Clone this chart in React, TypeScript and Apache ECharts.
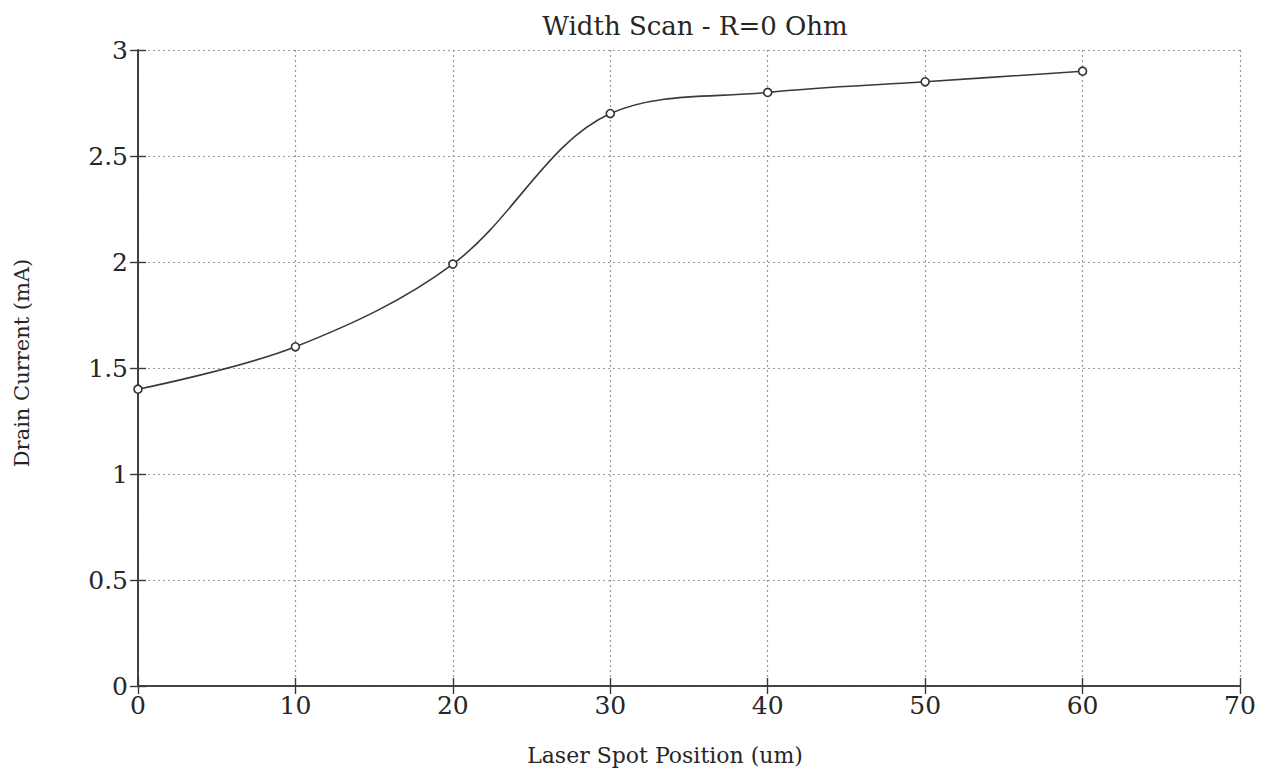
import React, { useEffect, useRef } from "react";
import * as echarts from "echarts";

const positions = [0, 10, 20, 30, 40, 50, 60];
const drainCurrent = [1.4, 1.6, 1.99, 2.7, 2.8, 2.85, 2.9];
const titleText = "Width Scan - R=0 Ohm";
const xName = "Laser Spot Position (um)";
const yName = "Drain Current (mA)";

const FONT = "'DejaVu Serif', serif";
const INK = "#262626";

export default function App() {
  const ref = useRef<HTMLDivElement>(null);
  useEffect(() => {
    document.body.style.margin = "0";
    if (!ref.current) return;
    const chart = echarts.init(ref.current, undefined, { renderer: "svg" });
    const baseAxis = {
      axisLine: { show: true, lineStyle: { color: "#3a3a3a", width: 1.6 } },
      axisTick: { show: true, inside: true, length: 8, lineStyle: { color: "#3a3a3a", width: 1.4 } },
    };
    chart.setOption({
      animation: false,
      backgroundColor: "#ffffff",
      title: {
        text: titleText,
        left: 690,
        top: 8,
        textAlign: "center",
        textStyle: { fontFamily: FONT, fontSize: 26, fontWeight: "normal", color: INK },
      },
      grid: { left: 138, right: 26, top: 50, bottom: 94 },
      xAxis: [
        {
          type: "value",
          min: 0,
          max: 70,
          interval: 10,
          position: "bottom",
          ...baseAxis,
          axisLabel: { fontFamily: FONT, fontSize: 25, color: INK, margin: 7 },
          splitLine: { show: true, lineStyle: { type: [2, 3], color: "#9a9a9a", width: 1.2 } },
        },
        {
          type: "value",
          min: 0,
          max: 70,
          interval: 10,
          position: "top",
          ...baseAxis,
          axisLabel: { show: false },
          splitLine: { show: false },
        },
      ],
      yAxis: [
        {
          type: "value",
          min: 0,
          max: 3,
          interval: 0.5,
          position: "left",
          ...baseAxis,
          axisLabel: { fontFamily: FONT, fontSize: 25, color: INK, margin: 10 },
          splitLine: { show: true, lineStyle: { type: [2, 3], color: "#9a9a9a", width: 1.2 } },
        },
        {
          type: "value",
          min: 0,
          max: 3,
          interval: 0.5,
          position: "right",
          ...baseAxis,
          axisLabel: { show: false },
          splitLine: { show: false },
        },
      ],
      graphic: [
        {
          type: "text",
          x: 665,
          y: 744,
          style: { text: xName, font: `22px ${FONT}`, fill: INK, textAlign: "center" },
        },
        {
          type: "text",
          x: 11,
          y: 363,
          rotation: Math.PI / 2,
          style: { text: yName, font: `21px ${FONT}`, fill: INK, textVerticalAlign: "top", textAlign: "center" },
        },
      ],
      series: [
        {
          type: "line",
          data: positions.map((p, i) => [p, drainCurrent[i]]),
          smooth: 0.35,
          symbol: "circle",
          symbolSize: 8,
          itemStyle: { color: "#ffffff", borderColor: "#333333", borderWidth: 1.6 },
          lineStyle: { color: "#3a3a3a", width: 1.6 },
        },
      ],
    });
    return () => chart.dispose();
  }, []);
  return <div ref={ref} style={{ width: 1266, height: 780 }} />;
}
